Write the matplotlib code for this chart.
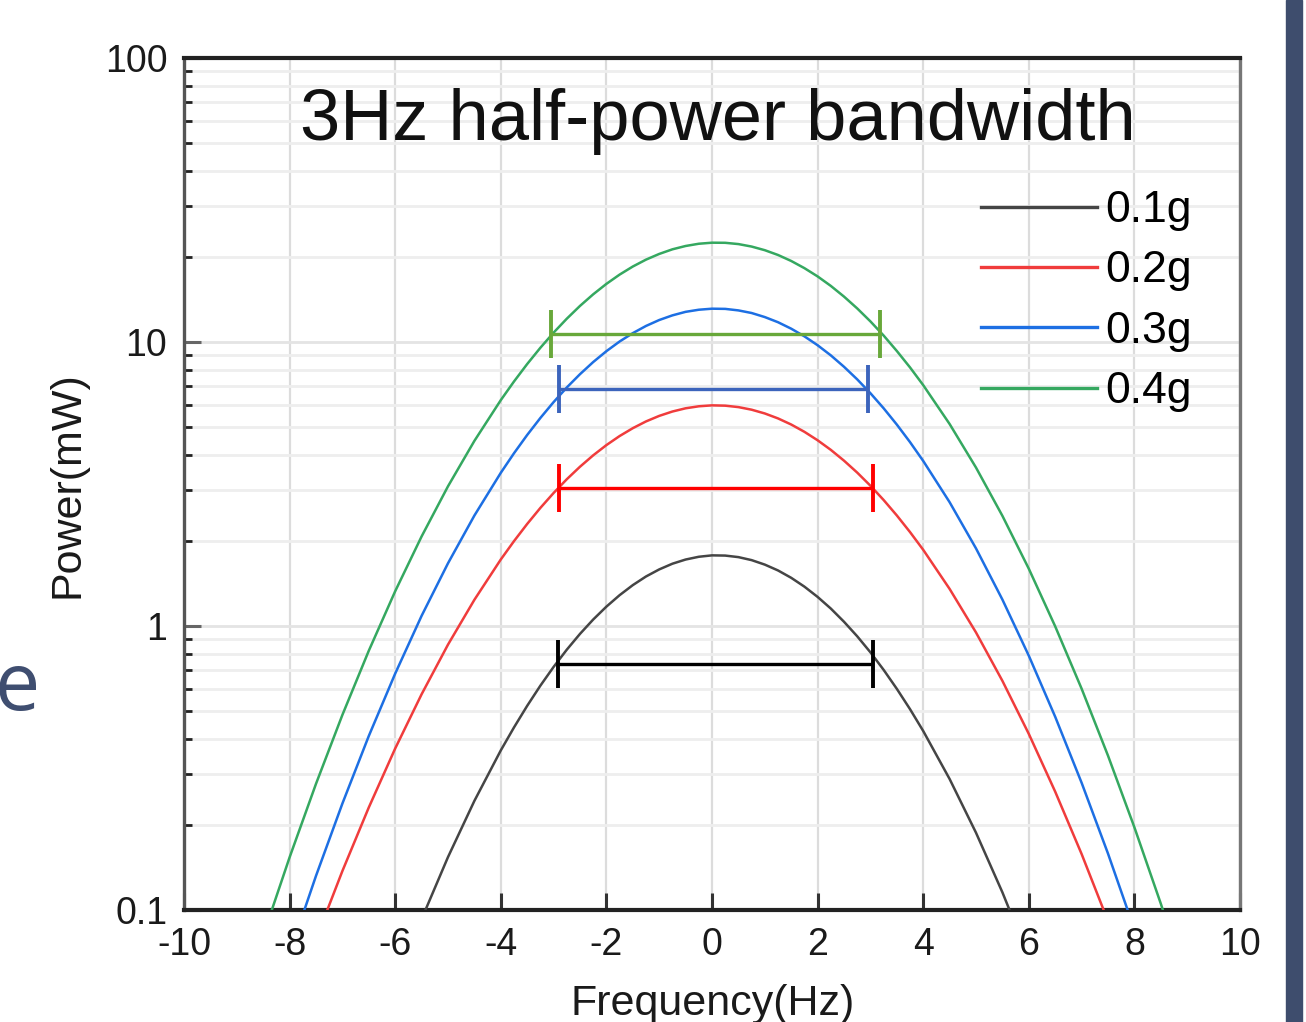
import matplotlib
matplotlib.use("Agg")
import matplotlib.pyplot as plt
from matplotlib.ticker import LogLocator, NullFormatter, FixedLocator, FixedFormatter
from matplotlib.patches import Rectangle

plt.rcParams['font.family'] = ['Liberation Sans', 'DejaVu Sans']
plt.rcParams['axes.unicode_minus'] = False

# ---------------- data ----------------
freq = [-9, -8.5, -8, -7.5, -7, -6.5, -6, -5.5, -5, -4.5, -4,
        -3.75, -3.5, -3.25, -3, -2.75, -2.5, -2.25, -2, -1.75, -1.5, -1.25, -1,
        -0.75, -0.5, -0.25, 0, 0.25, 0.5, 0.75, 1, 1.25, 1.5, 1.75, 2, 2.25, 2.5,
        2.75, 3, 3.25, 3.5, 3.75,
        4, 4.5, 5, 5.5, 6, 6.5, 7, 7.5, 8, 8.5, 9]

power_01g = [0.00074, 0.0017, 0.00372, 0.00778, 0.0155, 0.0295, 0.0536, 0.0929,
             0.1536, 0.2423, 0.3648,
             0.4395, 0.5237, 0.6167, 0.7177, 0.8254, 0.9382, 1.054, 1.170, 1.284,
             1.393, 1.494, 1.582, 1.657, 1.714, 1.753, 1.773, 1.770, 1.748, 1.706,
             1.645, 1.569, 1.478, 1.376, 1.266, 1.152, 1.035, 0.920, 0.808, 0.701,
             0.601, 0.5097,
             0.427, 0.2893, 0.1871, 0.1154, 0.0679, 0.0382, 0.0205, 0.01046, 0.0051,
             0.00237, 0.00106]
power_02g = [0.01196, 0.0233, 0.0437, 0.0789, 0.1372, 0.2297, 0.3705, 0.575, 0.860,
             1.237, 1.715,
             1.990, 2.288, 2.606, 2.940, 3.287, 3.638, 3.990, 4.335, 4.665, 4.972,
             5.252, 5.493, 5.691, 5.842, 5.938, 5.983, 5.968, 5.899, 5.776, 5.602,
             5.382, 5.122, 4.828, 4.508, 4.171, 3.821, 3.469, 3.119, 2.778, 2.451,
             2.142,
             1.855, 1.351, 0.949, 0.641, 0.417, 0.261, 0.1575, 0.0914, 0.0511,
             0.0275, 0.01428]
power_03g = [0.0178, 0.0361, 0.0704, 0.1319, 0.2371, 0.410, 0.680, 1.086, 1.663,
             2.449, 3.463,
             4.058, 4.707, 5.403, 6.143, 6.917, 7.704, 8.500, 9.283, 10.04, 10.745,
             11.39, 11.95, 12.41, 12.77, 12.99, 13.10, 13.08, 12.92, 12.65, 12.24,
             11.74, 11.14, 10.47, 9.741, 8.974, 8.18, 7.387, 6.603, 5.845, 5.121,
             4.442,
             3.813, 2.729, 1.876, 1.239, 0.786, 0.479, 0.2806, 0.158, 0.0854,
             0.0443, 0.0221]
power_04g = [0.0415, 0.0813, 0.1533, 0.2782, 0.4864, 0.8185, 1.326, 2.067, 3.104,
             4.486, 6.243,
             7.261, 8.366, 9.546, 10.79, 12.08, 13.40, 14.72, 16.02, 17.27, 18.44,
             19.50, 20.42, 21.20, 21.78, 22.18, 22.37, 22.35, 22.12, 21.68, 21.05,
             20.25, 19.29, 18.20, 17.02, 15.76, 14.45, 13.13, 11.82, 10.54, 9.30,
             8.139,
             7.05, 5.144, 3.613, 2.443, 1.591, 0.997, 0.6017, 0.3495, 0.1955,
             0.1053, 0.0546]

series_labels = ['0.1g', '0.2g', '0.3g', '0.4g']

# half-power bandwidth bars
bar_level = [0.733, 3.07, 6.85, 10.7]
bar_low = [-2.91, -2.90, -2.90, -3.04]
bar_high = [3.05, 3.04, 2.95, 3.19]

xtick_vals = [-10, -8, -6, -4, -2, 0, 2, 4, 6, 8, 10]
xtick_labels = ['-10', '-8', '-6', '-4', '-2', '0', '2', '4', '6', '8', '10']
ytick_vals = [0.1, 1, 10, 100]
ytick_labels = ['0.1', '1', '10', '100']

title_text = '3Hz half-power bandwidth'

# ---------------- styles ----------------
curve_colors = ['#454545', '#f03c3c', '#1d6fe3', '#35a860']
bar_colors = ['#000000', '#ff0000', '#3c64bc', '#68a83a']

fig = plt.figure(figsize=(13.06, 10.22), dpi=100)
fig.patch.set_facecolor('white')
ax = fig.add_axes([184 / 1306, 112 / 1022, 1056 / 1306, 852 / 1022])

all_power = [power_01g, power_02g, power_03g, power_04g]
handles = []
for p, c, lab in zip(all_power, curve_colors, series_labels):
    h, = ax.plot(freq, p, color=c, lw=1.8, label=lab, zorder=3,
                 solid_joinstyle='round')
    handles.append(h)

for lv, lo, hi, c in zip(bar_level, bar_low, bar_high, bar_colors):
    mid = (lo + hi) / 2
    half = (hi - lo) / 2
    ax.errorbar([mid], [lv], xerr=[[half], [half]], fmt='none', ecolor=c,
                elinewidth=2.4, capsize=17, capthick=2.8, zorder=4)

ax.set_yscale('log')
ax.set_xlim(-10, 10)
ax.set_ylim(0.1, 100)

ax.xaxis.set_major_locator(FixedLocator(xtick_vals))
ax.xaxis.set_major_formatter(FixedFormatter(xtick_labels))
ax.yaxis.set_major_locator(FixedLocator(ytick_vals))
ax.yaxis.set_major_formatter(FixedFormatter(ytick_labels))
ax.yaxis.set_minor_locator(LogLocator(base=10, subs=[2, 3, 4, 5, 6, 7, 8, 9]))
ax.yaxis.set_minor_formatter(NullFormatter())

ax.set_axisbelow(True)
ax.grid(True, which='major', axis='x', color='#dcdcdc', lw=1.6)
ax.grid(True, which='major', axis='y', color='#e4e4e4', lw=2.0)
ax.grid(True, which='minor', axis='y', color='#eeeeee', lw=2.0)

ax.tick_params(axis='both', which='major', direction='in', length=12, width=2.2,
               color='#333333', labelsize=27, labelcolor='#1a1a1a')
ax.tick_params(axis='x', which='major', pad=12)
ax.tick_params(axis='y', which='major', pad=12, color='#666666')
ax.tick_params(axis='y', which='minor', direction='in', length=6, width=2.0,
               color='#222222')
ax.tick_params(top=False, right=False, which='both')

ax.spines['left'].set_color('#555555')
ax.spines['left'].set_linewidth(2.4)
ax.spines['bottom'].set_color('#222222')
ax.spines['bottom'].set_linewidth(3.0)
ax.spines['top'].set_color('#222222')
ax.spines['top'].set_linewidth(3.0)
ax.spines['right'].set_color('#777777')
ax.spines['right'].set_linewidth(2.4)

ax.text(0.506, 0.904, title_text, transform=ax.transAxes, fontsize=52,
        ha='center', va='baseline', color='#111111')

ax.set_xlabel('Frequency(Hz)', fontsize=31, color='#1a1a1a', va='baseline')
ax.xaxis.set_label_coords(0.501, -0.1232)
ax.set_ylabel('Power(mW)', fontsize=31, color='#1a1a1a', va='center')
ax.yaxis.set_label_coords(-0.110, 0.499)

leg = ax.legend(handles=handles, loc='upper left',
                bbox_to_anchor=(0.7547, 0.8450), frameon=False, fontsize=32,
                handlelength=2.61, handletextpad=0.18, labelspacing=0.435,
                borderpad=0, borderaxespad=0)
for line in leg.get_lines():
    line.set_linewidth(2.4)

# decoration: dark band at the right edge and clipped letter at the left
fig.add_artist(Rectangle((1286 / 1306, 0), 16 / 1306, 1, transform=fig.transFigure,
                         color='#3e4d6d', zorder=0))
fig.text(40 / 1306, (1022 - 710) / 1022, 'e', fontsize=58, color='#3f4e70',
         ha='right', va='baseline', family=['Open Sans', 'DejaVu Sans'])

fig.savefig('out.png', dpi=100, facecolor='white')
